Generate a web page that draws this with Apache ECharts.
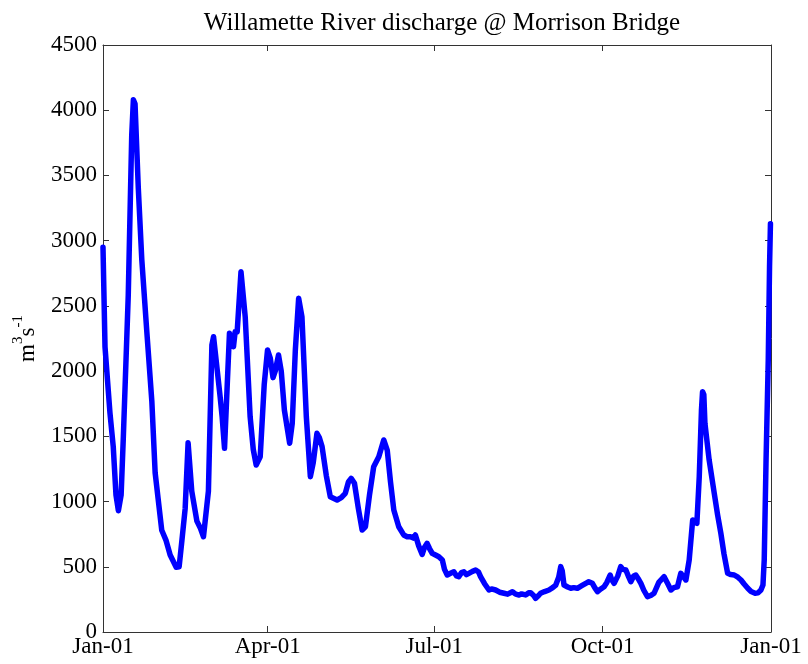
<!DOCTYPE html>
<html>
<head>
<meta charset="utf-8">
<title>Willamette River discharge</title>
<script src="https://cdn.jsdelivr.net/npm/echarts@6/dist/echarts.min.js"></script>
<style>
  html, body { margin: 0; padding: 0; background: #ffffff; }
  #chart { width: 808px; height: 664px; }
</style>
</head>
<body>
<div id="chart"></div>
<script>
// Day of year (0 = Jan 1) for each discharge sample
const sampleDays = [
  0, 1.1, 3.8, 5.6, 7.1, 8.4, 9.9, 11.1, 13.8, 15.7, 16.6, 17.5, 19.3, 21.2, 23.9, 26.7, 28.5,
  32.1, 34.5, 36.7, 40.0, 41.6, 43.1, 44.9, 46.5, 48.5, 51.3, 53.1, 54.9, 57.6, 59.5, 60.4,
  61.3, 64.0, 65.1, 66.4, 67.9, 69.1, 71.3, 72.2, 73.3, 75.4, 76.3, 77.7, 80.4, 82.1, 83.7,
  85.9, 88.1, 89.9, 91.4, 92.9, 94.1, 95.9, 97.4, 99.1, 102.0, 103.4, 105.1, 106.9, 108.7,
  111.1, 113.3, 114.9, 116.9, 118.2, 119.7, 122.0, 124.2, 127.9, 130.2, 132.4, 134.1, 135.6,
  137.4, 139.5, 141.6, 143.4, 145.6, 147.9, 150.7, 153.4, 155.3, 157.1, 158.9, 161.6, 164.3,
  166.2, 168.0, 169.6, 170.7, 172.5, 174.4, 175.7, 177.1, 178.4, 179.9, 181.7, 183.5, 185.4,
  186.6, 188.1, 189.9, 191.7, 193.2, 194.4, 195.9, 197.2, 198.6, 199.9, 201.9, 203.6, 205.2,
  206.3, 208.5, 210.9, 212.3, 214.5, 216.7, 219.1, 221.1, 223.7, 225.5, 227.3, 228.7, 230.9,
  232.6, 233.7, 235.3, 236.4, 238.0, 239.1, 241.3, 243.7, 245.7, 247.4, 249.0, 250.1, 250.9,
  251.9, 253.9, 255.6, 257.2, 259.2, 261.6, 263.8, 265.4, 267.4, 268.7, 270.2, 272.0, 273.8,
  275.3, 277.1, 278.0, 279.3, 281.3, 282.9, 284.0, 285.7, 287.3, 288.4, 290.0, 291.1, 292.8,
  293.9, 295.5, 297.5, 299.3, 301.1, 303.7, 306.6, 308.6, 310.3, 311.9, 313.9, 315.7, 316.8,
  318.5, 320.3, 322.2, 323.4, 324.5, 325.8, 327.0, 327.6, 328.3, 328.9, 331.2, 334.0, 335.8,
  337.6, 339.3, 341.3, 343.1, 344.9, 346.9, 348.6, 350.2, 352.3, 354.1, 356.3, 357.9, 359.5,
  360.6, 361.3, 362.3, 363.5, 364.2, 364.7
];

// Discharge (m^3 s^-1) at each sample day
const discharge = [
  2950, 2185, 1680, 1420, 1050, 930, 1050, 1490, 2580, 3810, 4080, 4050, 3400, 2855, 2310, 1765, 1220,
  780, 700, 590, 497, 500, 700, 947, 1450, 1080, 850, 800, 730, 1080, 2200, 2264,
  2150, 1804, 1650, 1408, 1900, 2290, 2187, 2302, 2300, 2762, 2750, 2417, 1650, 1400, 1280,
  1344, 1900, 2162, 2100, 1950, 2000, 2124, 2000, 1702, 1447, 1600, 2162, 2558, 2417,
  1650, 1191, 1300, 1523, 1490, 1421, 1200, 1037, 1012, 1030, 1063, 1150, 1178,
  1140, 950, 782, 807, 1050, 1267, 1344, 1472, 1395, 1150, 935, 807, 744,
  730, 730, 720, 744, 660, 595, 650, 680, 640, 603, 590, 577, 552,
  480, 437, 450, 462, 430, 424, 455, 462, 440, 450, 465, 475, 460,
  424, 370, 322, 330, 322, 305, 297, 290, 309, 290, 284, 292, 284,
  300, 301, 280, 258, 280, 297, 310, 322, 340, 360, 420, 501, 470,
  360, 345, 335, 340, 335, 355, 373, 385, 373, 340, 309, 330, 347,
  380, 437, 400, 373, 430, 501, 480, 475, 420, 386, 430, 437, 400,
  373, 320, 271, 280, 297, 380, 424, 370, 322, 340, 347, 450, 430,
  399, 552, 859, 840, 833, 1191, 1700, 1842, 1820, 1600, 1319, 1063, 900,
  757, 600, 450, 440, 437, 420, 399, 370, 335, 310, 297, 300, 322,
  360, 552, 1319, 2085, 2800, 3130
];

// Quarter-start ticks along the time axis
const tickDays = [0, 90, 181, 273, 365];
const tickLabels = ['Jan-01', 'Apr-01', 'Jul-01', 'Oct-01', 'Jan-01'];

const FONT = '"Liberation Serif", "DejaVu Serif", serif';
const AXIS_COLOR = '#333333';

const seriesData = sampleDays.map((d, i) => [d, discharge[i]]);

function xAxisDef(position, showLabels) {
  return {
    type: 'value',
    position: position,
    min: 0,
    max: 365,
    axisLine: { show: true, onZero: false, lineStyle: { color: AXIS_COLOR, width: 1 } },
    axisTick: { show: true, inside: true, length: 6, customValues: tickDays, lineStyle: { color: AXIS_COLOR } },
    axisLabel: {
      show: showLabels,
      customValues: tickDays,
      margin: 3,
      color: '#000',
      fontFamily: FONT,
      fontSize: 23,
      formatter: function (v) {
        const idx = tickDays.indexOf(v);
        return idx >= 0 ? tickLabels[idx] : '';
      }
    },
    splitLine: { show: false }
  };
}

function yAxisDef(position, showLabels) {
  return {
    type: 'value',
    position: position,
    min: 0,
    max: 4500,
    interval: 500,
    axisLine: { show: true, onZero: false, lineStyle: { color: AXIS_COLOR, width: 1 } },
    axisTick: { show: true, inside: true, length: 6, lineStyle: { color: AXIS_COLOR } },
    axisLabel: {
      show: showLabels,
      margin: 6,
      color: '#000',
      fontFamily: FONT,
      fontSize: 23,
      formatter: function (v) { return String(v); }
    },
    splitLine: { show: false }
  };
}

const yLeft = yAxisDef('left', true);
yLeft.name = '{b|m}{sup|3}{b|s}{sup|-1}';
yLeft.nameLocation = 'middle';
yLeft.nameRotate = 90;
yLeft.nameGap = 64;
yLeft.nameTextStyle = {
  color: '#000',
  fontFamily: FONT,
  rich: {
    b: { fontFamily: FONT, fontSize: 23, color: '#000', lineHeight: 28, verticalAlign: 'bottom' },
    sup: { fontFamily: FONT, fontSize: 15, color: '#000', lineHeight: 16, verticalAlign: 'top' }
  }
};

const chart = echarts.init(document.getElementById('chart'), null, { renderer: 'canvas' });
chart.setOption({
  animation: false,
  backgroundColor: '#ffffff',
  title: {
    text: 'Willamette River discharge @ Morrison Bridge',
    left: 437,
    textAlign: 'center',
    top: 6,
    textStyle: { fontFamily: FONT, fontWeight: 'normal', fontSize: 25, color: '#000' }
  },
  grid: { left: 103, right: 37, top: 45, bottom: 32, containLabel: false },
  xAxis: [xAxisDef('bottom', true), xAxisDef('top', false)],
  yAxis: [yLeft, yAxisDef('right', false)],
  series: [{
    type: 'line',
    data: seriesData,
    xAxisIndex: 0,
    yAxisIndex: 0,
    showSymbol: false,
    symbol: 'none',
    lineStyle: { color: '#0000ff', width: 5.5, join: 'round', cap: 'round' },
    z: 1
  }]
});
</script>
</body>
</html>
